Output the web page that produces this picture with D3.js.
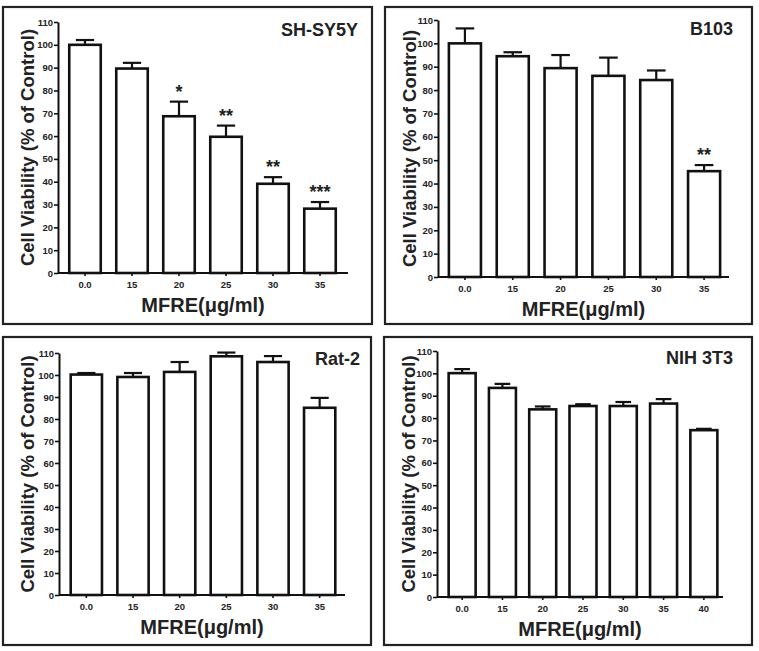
<!DOCTYPE html>
<html><head><meta charset="utf-8">
<script src="https://cdn.jsdelivr.net/npm/d3@7"></script>
<style>body{margin:0;background:#fff}svg{display:block}</style>
</head><body>
<svg id="c" width="759" height="651"></svg>
<script>
// ---- data ----
const doses6 = ["0.0", "15", "20", "25", "30", "35"];
const doses7 = ["0.0", "15", "20", "25", "30", "35", "40"];
const yTicks = [0, 10, 20, 30, 40, 50, 60, 70, 80, 90, 100, 110];

const shsy5yMean = [100, 89.6, 68.7, 59.7, 39.1, 28.2];
const shsy5yErr  = [2.1, 2.5, 6.4, 4.9, 2.9, 2.9];
const shsy5yStars = ["", "", "*", "**", "**", "***"];

const b103Mean = [100, 94.5, 89.4, 86.1, 84.3, 45.3];
const b103Err  = [6.4, 1.7, 5.6, 7.8, 4.1, 2.6];
const b103Stars = ["", "", "", "", "", "**"];

const rat2Mean = [100.2, 99.1, 101.4, 108.5, 105.9, 85.1];
const rat2Err  = [0.7, 1.8, 4.5, 1.7, 2.7, 4.5];
const rat2Stars = ["", "", "", "", "", ""];

const nihMean = [100.1, 93.5, 83.9, 85.4, 85.4, 86.5];
const nih40Mean = [74.6];
const nihErr  = [1.8, 1.8, 1.3, 0.8, 1.8, 2.0];
const nih40Err = [0.6];
const nihStars = ["", "", "", "", "", "", ""];

const titles = ["SH-SY5Y", "B103", "Rat-2", "NIH 3T3"];
const yLabel = "Cell Viability (% of Control)";
const xLabel = "MFRE(\u03bcg/ml)";

// ---- layout ----
const panels = [
  {title: titles[0], cats: doses6, mean: shsy5yMean, err: shsy5yErr, stars: shsy5yStars,
   frame: [3, 7, 372, 324], left: 58, right: 348, top: 22, bottom: 273, band: [61.5, 343.5], tx: 358, ty: 36},
  {title: titles[1], cats: doses6, mean: b103Mean, err: b103Err, stars: b103Stars,
   frame: [385, 7, 752, 324], left: 438, right: 729, top: 20, bottom: 277, band: [441, 728], tx: 733, ty: 35},
  {title: titles[2], cats: doses6, mean: rat2Mean, err: rat2Err, stars: rat2Stars,
   frame: [3, 337, 371, 645], left: 59, right: 345, top: 353, bottom: 595, band: [63, 343], tx: 360, ty: 365},
  {title: titles[3], cats: doses7, mean: nihMean.concat(nih40Mean), err: nihErr.concat(nih40Err), stars: nihStars,
   frame: [384, 337, 752, 645], left: 437, right: 723, top: 351, bottom: 597, band: [442, 724], tx: 733, ty: 364}
];

const svg = d3.select("#c");
const font = "'Liberation Sans', Arial, sans-serif";

panels.forEach(p => {
  const g = svg.append("g");
  // frame
  g.append("rect").attr("x", p.frame[0]).attr("y", p.frame[1])
    .attr("width", p.frame[2] - p.frame[0]).attr("height", p.frame[3] - p.frame[1])
    .attr("fill", "none").attr("stroke", "#222").attr("stroke-width", 2.2);

  const x = d3.scaleBand().domain(p.cats).range(p.band).paddingInner(0.33).paddingOuter(0.165);
  const y = d3.scaleLinear().domain([0, 110]).range([p.bottom, p.top]);

  // y axis
  const ya = g.append("g").attr("transform", `translate(${p.left},0)`)
    .call(d3.axisLeft(y).tickValues(yTicks).tickSize(4).tickPadding(1).tickSizeOuter(0));
  ya.select(".domain").attr("stroke", "#111").attr("stroke-width", 2);
  ya.selectAll(".tick line").attr("stroke", "#111").attr("stroke-width", 1.6);
  ya.selectAll("text").attr("font-family", font).attr("font-weight", "bold")
    .attr("font-size", 9.5).attr("fill", "#222");

  // x axis
  const xa = g.append("g").attr("transform", `translate(0,${p.bottom})`)
    .call(d3.axisBottom(x).tickSize(3).tickPadding(5).tickSizeOuter(0));
  xa.select(".domain").attr("d", `M${p.left},0H${p.right}`).attr("stroke", "#111").attr("stroke-width", 2);
  xa.selectAll(".tick line").attr("stroke", "#111").attr("stroke-width", 1.6);
  xa.selectAll("text").attr("font-family", font).attr("font-weight", "bold")
    .attr("font-size", 9.5).attr("fill", "#222");

  const data = p.cats.map((c, i) => ({c, m: p.mean[i], e: p.err[i], s: p.stars[i]}));
  const bw = x.bandwidth();
  const cap = bw * 0.58;

  // error bars (upper only)
  const eb = g.append("g").attr("stroke", "#111").attr("stroke-width", 2.2);
  eb.selectAll("line.v").data(data).join("line").attr("class", "v")
    .attr("x1", d => x(d.c) + bw / 2).attr("x2", d => x(d.c) + bw / 2)
    .attr("y1", d => y(d.m)).attr("y2", d => y(d.m + d.e));
  eb.selectAll("line.h").data(data).join("line").attr("class", "h")
    .attr("x1", d => x(d.c) + bw / 2 - cap / 2).attr("x2", d => x(d.c) + bw / 2 + cap / 2)
    .attr("y1", d => y(d.m + d.e)).attr("y2", d => y(d.m + d.e));

  // bars
  g.append("g").selectAll("rect").data(data).join("rect")
    .attr("x", d => x(d.c)).attr("width", bw)
    .attr("y", d => y(d.m)).attr("height", d => y(0) - y(d.m))
    .attr("fill", "#fff").attr("stroke", "#111").attr("stroke-width", 2.6);

  // significance stars
  g.append("g").selectAll("text").data(data.filter(d => d.s)).join("text")
    .attr("x", d => x(d.c) + bw / 2).attr("y", d => y(d.m + d.e) - 4)
    .attr("text-anchor", "middle").attr("font-family", font).attr("font-weight", "bold")
    .attr("font-size", 18).attr("fill", "#222").text(d => d.s);

  // title
  g.append("text").attr("x", p.tx).attr("y", p.ty)
    .attr("text-anchor", "end").attr("font-family", font).attr("font-weight", "bold")
    .attr("font-size", 18).attr("fill", "#222").text(p.title);

  // axis labels
  g.append("text").attr("x", (p.left + p.right) / 2).attr("y", p.bottom + 39)
    .attr("text-anchor", "middle").attr("font-family", font).attr("font-weight", "bold")
    .attr("font-size", 20).attr("fill", "#222").text(xLabel);
  g.append("text")
    .attr("transform", `translate(${p.frame[0] + 31},${(p.top + p.bottom) / 2}) rotate(-90)`)
    .attr("text-anchor", "middle").attr("font-family", font).attr("font-weight", "bold")
    .attr("font-size", 18.5).attr("fill", "#222").text(yLabel);
});
</script>
</body></html>
